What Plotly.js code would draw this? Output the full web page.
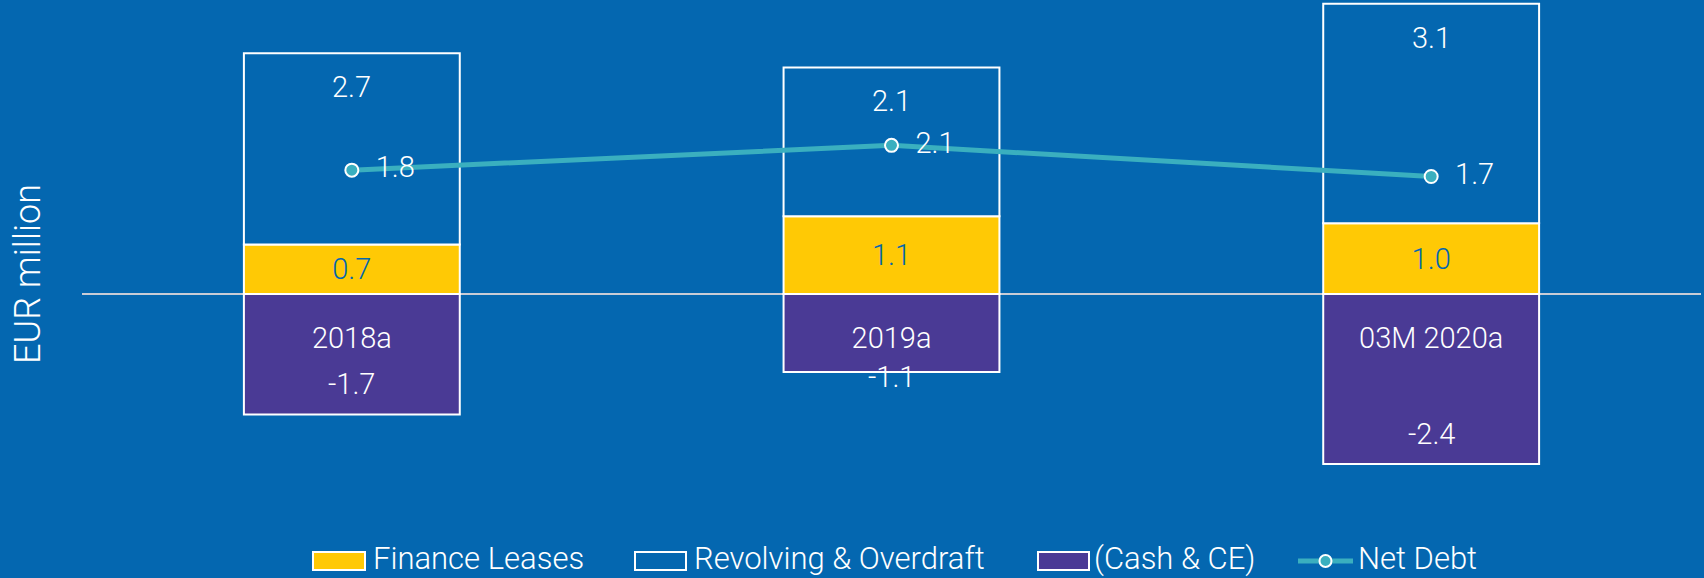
<!DOCTYPE html>
<html>
<head>
<meta charset="utf-8">
<script src="https://cdn.plot.ly/plotly-3.0.1.min.js"></script>
<style>
  html, body { margin: 0; padding: 0; background: #0467B0; }
  #chart { width: 1704px; height: 578px; }
</style>
</head>
<body>
<div id="chart"></div>
<script>
// ---- data ----
const categories = ['2018a', '2019a', '03M 2020a'];
const seriesNames = ['Finance Leases', 'Revolving & Overdraft', '(Cash & CE)', 'Net Debt'];
const financeLeases = [0.7, 1.1, 1.0];
const revolving = [2.7, 2.1, 3.1];
const cash = [-1.7, -1.1, -2.4];
const netDebt = [1.75, 2.1, 1.66];

// ---- style ----
const BG = '#0467B0';
const YELLOW = '#FFC905';
const PURPLE = '#4A3A95';
const TEAL = '#3AAFBF';
const WHITE = '#FFFFFF';
const FONT = 'Roboto, "Open Sans", sans-serif';
const VAL_SIZE = 29;

const W = 1704, H = 578;
const margin = {l: 82, r: 3, t: 0, b: 89, autoexpand: false};
const yRange = [-2.754, 4.153];
const plotW = W - margin.l - margin.r;
const plotH = H - margin.t - margin.b;
const ppu = plotH / (yRange[1] - yRange[0]);
const px2x = px => (px - margin.l) / plotW;   // page px -> paper x
const px2y = py => (plotH + margin.t - py) / plotH; // page px -> paper y

const fmt = v => v.toFixed(1);

const traces = [
  {
    type: 'bar', name: seriesNames[0], x: categories, y: financeLeases,
    marker: {color: YELLOW, line: {color: WHITE, width: 2}},
    text: financeLeases.map(fmt), textposition: 'inside', insidetextanchor: 'middle',
    textfont: {family: FONT, size: VAL_SIZE, color: BG, weight: 300},
    width: 0.4, hoverinfo: 'skip', showlegend: false
  },
  {
    type: 'bar', name: seriesNames[1], x: categories, y: revolving,
    marker: {color: BG, line: {color: WHITE, width: 2}},
    width: 0.4, hoverinfo: 'skip', showlegend: false
  },
  {
    type: 'bar', name: seriesNames[2], x: categories, y: cash,
    marker: {color: PURPLE, line: {color: WHITE, width: 2}},
    width: 0.4, hoverinfo: 'skip', showlegend: false
  },
  {
    type: 'scatter', name: seriesNames[3], x: categories, y: netDebt,
    mode: 'lines+markers+text',
    line: {color: TEAL, width: 5},
    marker: {symbol: 'circle', size: 13, color: TEAL, line: {color: WHITE, width: 2}},
    text: netDebt.map(v => '\u2002' + fmt(v)), textposition: 'middle right',
    textfont: {family: FONT, size: VAL_SIZE, color: WHITE, weight: 300},
    hoverinfo: 'skip', showlegend: false
  }
];

const annotations = [];
const shapes = [];
categories.forEach((c, i) => {
  // revolving label near the top of the stack
  annotations.push({
    x: c, y: financeLeases[i] + revolving[i], xref: 'x', yref: 'y',
    text: fmt(revolving[i]), showarrow: false, yanchor: 'middle', yshift: -34,
    font: {family: FONT, size: VAL_SIZE, color: WHITE, weight: 300}
  });
  // cash label near the bottom, kept clear of the category label
  const shift = Math.min(30, Math.abs(cash[i]) * ppu - 83);
  annotations.push({
    x: c, y: cash[i], xref: 'x', yref: 'y',
    text: fmt(cash[i]), showarrow: false, yanchor: 'middle', yshift: shift,
    font: {family: FONT, size: VAL_SIZE, color: WHITE, weight: 300}
  });
});

// y-axis title
annotations.push({
  xref: 'paper', yref: 'paper', x: px2x(28), y: px2y(274),
  text: 'EUR million', textangle: -90, showarrow: false, xanchor: 'center', yanchor: 'middle',
  font: {family: FONT, size: 36, color: WHITE, weight: 300}
});

// ---- legend (drawn below the plot) ----
const legendY = 561;
const legendTextY = 558;
const legendItems = [
  {kind: 'box', fill: YELLOW, x0: 313, x1: 365, tx: 372},
  {kind: 'box', fill: BG, x0: 635, x1: 686, tx: 693},
  {kind: 'box', fill: PURPLE, x0: 1038, x1: 1089, tx: 1093},
  {kind: 'line', x0: 1298, x1: 1353, tx: 1357}
];
legendItems.forEach((it, i) => {
  if (it.kind === 'box') {
    shapes.push({
      type: 'rect', xref: 'paper', yref: 'paper',
      x0: px2x(it.x0), x1: px2x(it.x1), y0: px2y(legendY - 9), y1: px2y(legendY + 9),
      fillcolor: it.fill, line: {color: WHITE, width: 2}, layer: 'above'
    });
  } else {
    shapes.push({
      type: 'line', xref: 'paper', yref: 'paper',
      x0: px2x(it.x0), x1: px2x(it.x1), y0: px2y(legendY), y1: px2y(legendY),
      line: {color: TEAL, width: 5}, layer: 'above'
    });
    const cx = (it.x0 + it.x1) / 2;
    shapes.push({
      type: 'circle', xref: 'paper', yref: 'paper',
      x0: px2x(cx - 6), x1: px2x(cx + 6), y0: px2y(legendY - 6), y1: px2y(legendY + 6),
      fillcolor: TEAL, line: {color: WHITE, width: 2}, layer: 'above'
    });
  }
  annotations.push({
    xref: 'paper', yref: 'paper', x: px2x(it.tx), y: px2y(legendTextY),
    text: seriesNames[i], showarrow: false, xanchor: 'left', yanchor: 'middle', borderpad: 0,
    font: {family: FONT, size: 31, color: WHITE, weight: 300}
  });
});

const layout = {
  width: W, height: H,
  margin: margin,
  paper_bgcolor: BG, plot_bgcolor: BG,
  barmode: 'relative',
  showlegend: false,
  xaxis: {
    type: 'category', range: [-0.5, 2.5],
    anchor: 'free', position: 0.35,
    showline: false, showgrid: false, zeroline: false, ticks: '',
    tickfont: {family: FONT, size: VAL_SIZE, color: WHITE, weight: 300},
    fixedrange: true
  },
  yaxis: {
    range: yRange, showgrid: false, showticklabels: false, ticks: '',
    zeroline: true, zerolinecolor: '#C9CCD6', zerolinewidth: 2,
    showline: false, fixedrange: true
  },
  shapes: shapes,
  annotations: annotations,
  font: {family: FONT, color: WHITE}
};

Plotly.newPlot('chart', traces, layout, {displayModeBar: false, staticPlot: true});
</script>
</body>
</html>
